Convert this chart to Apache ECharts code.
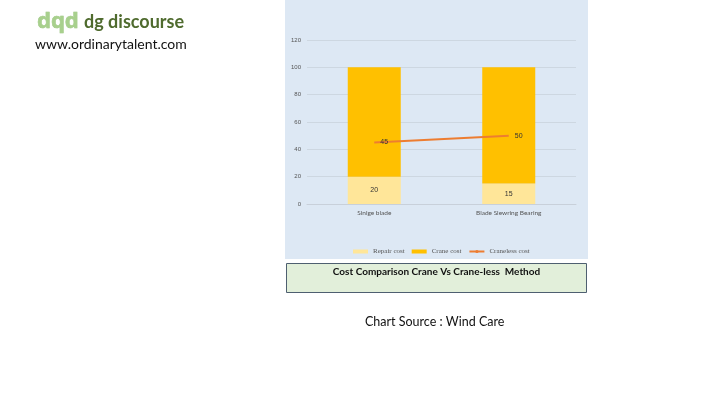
<!DOCTYPE html>
<html><head><meta charset="utf-8">
<script src="https://cdn.jsdelivr.net/npm/echarts@6/dist/echarts.min.js"></script>
<style>html,body{margin:0;padding:0;background:#fff}#c{width:720px;height:405px}</style>
</head><body><div id="c"></div>
<script>
const categories = ['Sinlge blade', 'Blade Slewring Bearing'];
const repairCost = [20, 15];
const craneCost = [80, 85];
const cranelessCost = [45, 50];
const yTicks = [0, 20, 40, 60, 80, 100, 120];

const chart = echarts.init(document.getElementById('c'));
chart.setOption({
  animation: false,
  backgroundColor: '#ffffff',
  graphic: [
    {type:'rect', shape:{x:285,y:0,width:303,height:259}, style:{fill:'#dde8f4'}, z:-10},
    {type:'rect', shape:{x:286.5,y:263.5,width:300,height:29}, style:{fill:'#e2efda', stroke:'#4e5f70', lineWidth:1}},
    {type:'text', x:436.5, y:272, style:{text:'Cost Comparison Crane Vs Crane-less  Method', font:'bold 10px Lato, "Liberation Sans", sans-serif', fill:'#111', align:'center', verticalAlign:'middle'}},
    {type:'text', x:365, y:322, style:{text:'Chart Source : Wind Care', font:'12.5px Lato, "Noto Sans", sans-serif', fill:'#111', verticalAlign:'middle'}},
    {type:'text', x:37, y:22, style:{text:'dqd', font:'bold 22px "Noto Sans", sans-serif', fill:'#a8d08d', stroke:'#8fbf75', lineWidth:0.5, verticalAlign:'middle'}},
    {type:'text', x:84, y:22, style:{text:'dg discourse', font:'bold 18px Lato, "Noto Sans", sans-serif', fill:'#4f6b2e', verticalAlign:'middle'}},
    {type:'text', x:35, y:44, style:{text:'www.ordinarytalent.com', font:'14px Lato, "Noto Sans", sans-serif', fill:'#111', verticalAlign:'middle'}}
  ],
  grid: {left:307, right:144, top:40, bottom:201, containLabel:false},
  legend: {
    left: 348, top: 243,
    itemWidth: 15, itemHeight: 4, itemGap: 7,
    textStyle: {fontFamily:'"Liberation Serif", "DejaVu Serif", serif', fontSize:7, color:'#555'},
    data: [
      {name:'Repair cost', icon:'rect'},
      {name:'Crane cost', icon:'rect'},
      {name:'Craneless cost'}
    ]
  },
  xAxis: {
    type:'category', data:categories,
    axisLine:{show:true, lineStyle:{color:'#c8d0da'}}, axisTick:{show:false},
    axisLabel:{fontSize:6.5, color:'#555', margin:5, fontFamily:'Lato, "Liberation Sans", sans-serif'}
  },
  yAxis: {
    type:'value', min:0, max:120, interval:20,
    axisLine:{show:false}, axisTick:{show:false},
    axisLabel:{fontSize:6, color:'#555', margin:6, fontFamily:'"Liberation Sans", sans-serif',
      formatter: v => yTicks.includes(v) ? String(v) : ''},
    splitLine:{lineStyle:{color:'#c9d2dc', width:0.8}}
  },
  series: [
    {name:'Repair cost', type:'bar', stack:'cost', data:repairCost, barWidth:53,
      itemStyle:{color:'#ffe699'},
      label:{show:true, position:'inside', fontSize:7, color:'#333'}},
    {name:'Crane cost', type:'bar', stack:'cost', data:craneCost, barWidth:53,
      itemStyle:{color:'#ffc000'}},
    {name:'Craneless cost', type:'line', data:cranelessCost, symbol:'circle', symbolSize:0.1, showSymbol:true,
      lineStyle:{color:'#ed7d31', width:2}, itemStyle:{color:'#ed7d31'},
      label:{show:true, position:'right', distance:6, fontSize:7, color:'#333'}}
  ]
});
</script></body></html>
